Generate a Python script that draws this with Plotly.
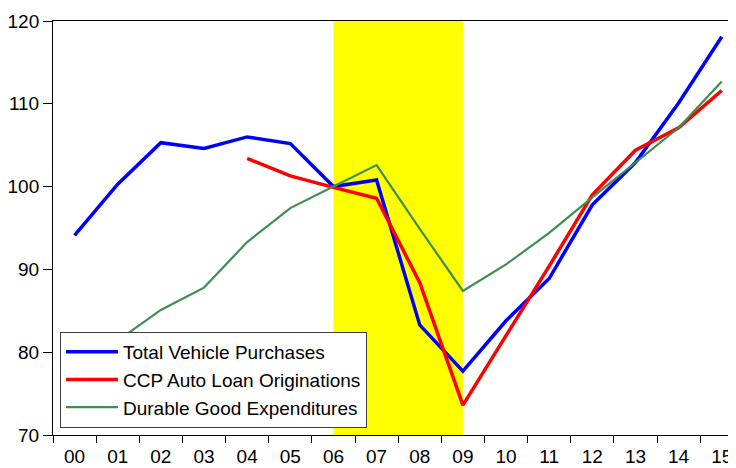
import plotly.graph_objects as go

years = ["00", "01", "02", "03", "04", "05", "06", "07", "08", "09",
         "10", "11", "12", "13", "14", "15"]
total_vehicle = [94.1, 100.3, 105.3, 104.6, 106.0, 105.2, 100.0, 100.8,
                 83.3, 77.7, 83.8, 88.9, 97.8, 102.9, 110.1, 118.1]
ccp_auto = [None, None, None, None, 103.4, 101.3, 99.9, 98.6,
            88.4, 73.6, 82.0, 90.4, 99.0, 104.4, 107.1, 111.6]
durable = [77.5, 81.4, 85.1, 87.8, 93.3, 97.4, 100.0, 102.6,
           94.9, 87.4, 90.6, 94.4, 98.7, 102.9, 107.1, 112.7]
recession = ["06", "09"]

FONT = "Arial, 'Liberation Sans', sans-serif"

fig = go.Figure()
fig.add_trace(go.Scatter(x=years, y=total_vehicle, mode="lines",
                         name="Total Vehicle Purchases",
                         line=dict(color="#0000FF", width=3.5)))
fig.add_trace(go.Scatter(x=years, y=ccp_auto, mode="lines",
                         name="CCP Auto Loan Originations",
                         line=dict(color="#FF0000", width=3.5)))
fig.add_trace(go.Scatter(x=years, y=durable, mode="lines",
                         name="Durable Good Expenditures",
                         line=dict(color="#3D8F4F", width=2.2)))

fig.add_shape(type="rect", xref="x", yref="paper",
              x0=recession[0], x1=recession[1], y0=0, y1=1,
              fillcolor="#FFFF00", line=dict(width=0), layer="below")

# page body has an 8px default margin, so the figure is 8px smaller
fig.update_layout(
    width=728, height=460,
    margin=dict(l=45, r=0, t=13, b=33, autoexpand=False),
    paper_bgcolor="white", plot_bgcolor="white",
    font=dict(family=FONT, size=19, color="black"),
    showlegend=True,
    legend=dict(x=0.0102, y=0.249, xanchor="left", yanchor="top",
                bgcolor="white", bordercolor="#404040", borderwidth=1,
                font=dict(family=FONT, size=19, color="black"),
                tracegroupgap=0, itemwidth=52),
    xaxis=dict(type="category", range=[-0.5, 15.33], automargin=False,
               showline=True, linecolor="black", linewidth=1, mirror=True,
               ticks="outside", tickson="boundaries", ticklen=7,
               tickcolor="black", showgrid=False, zeroline=False,
               ticklabelstandoff=4,
               tickfont=dict(family=FONT, size=19)),
    yaxis=dict(range=[70, 120], dtick=10, showline=True, linecolor="black",
               linewidth=1, ticks="outside", ticklen=9, tickcolor="black",
               showgrid=False, zeroline=False, automargin=False,
               ticklabelstandoff=0,
               tickfont=dict(family=FONT, size=19)),
)

fig.write_html("out.html")
